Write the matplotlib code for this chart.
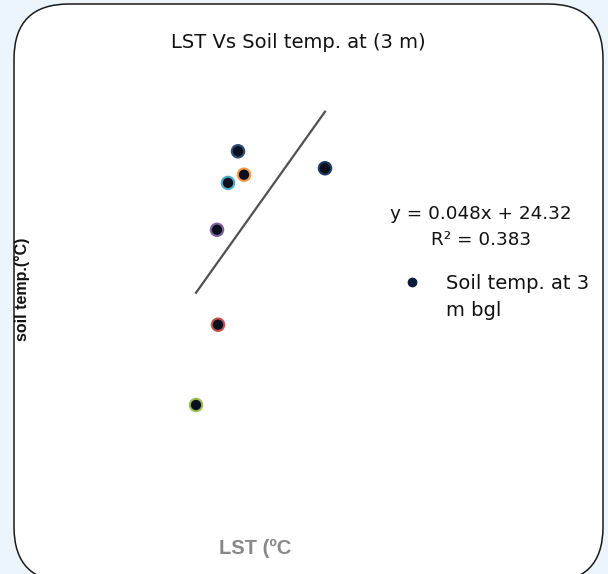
import numpy as np
import matplotlib
matplotlib.use("Agg")
import matplotlib.pyplot as plt
from matplotlib.patches import FancyBboxPatch
from matplotlib.transforms import IdentityTransform

# ---- data ----
lst = [30.10, 30.40, 29.60, 34.45, 29.05, 29.10, 28.00]
soil = [25.911, 25.871, 25.857, 25.882, 25.777, 25.615, 25.478]
edge_colors = ["#2c4d75", "#f79646", "#4bacc6", "#1f3a60", "#8064a2", "#c0504d", "#9bbb59"]
title = "LST Vs Soil temp. at (3 m)"
xlabel = "LST (ºC"
ylabel = "soil temp.(°C)"
equation = "y = 0.048x + 24.32"
r2_text = "R² = 0.383"
legend_label = ["Soil temp. at 3", "m bgl"]

W, H = 608, 574
fig = plt.figure(figsize=(W / 100, H / 100), dpi=100)
fig.patch.set_facecolor("#ecf5fc")

# rounded white panel (pixel coordinates)
panel = FancyBboxPatch((14, -8), 589, 578, boxstyle="round,pad=0,rounding_size=55",
                       transform=IdentityTransform(), facecolor="white",
                       edgecolor="#1a1a1a", linewidth=1.1, zorder=-5)
fig.patches.append(panel)

# axes placed in pixel space: left 50, right 570, top 40, bottom 520
ax = fig.add_axes([50 / W, (H - 520) / H, 520 / W, 480 / H], zorder=2)
ax.set_xlim(20.7, 46.7)
ax.set_ylim(25.2817, 26.1009)
ax.axis("off")
ax.patch.set_alpha(0)

# trend line
coef = np.polyfit(lst, soil, 1)
xs = np.array([min(lst), max(lst)])
ax.plot(xs, np.polyval(coef, xs), color="#555050", linewidth=1.6, zorder=2)

# points
ax.scatter(lst, soil, s=80, c="#0a0f1e", edgecolors=edge_colors, linewidths=1.5, zorder=3)

# texts
fig.text(298 / W, 1 - 42 / H, title, ha="center", va="center", fontsize=14,
         family=["DejaVu Sans"], color="#111111")
fig.text(255 / W, 1 - 548 / H, xlabel, ha="center", va="center", fontsize=14.5,
         fontweight="bold", family=["Liberation Sans", "DejaVu Sans"], color="#888888")
fig.text(22 / W, 1 - 289 / H, ylabel, ha="center", va="center", rotation=90,
         fontsize=11.5, fontweight="bold", family=["Liberation Sans", "DejaVu Sans"],
         color="#111111")
fig.text(481 / W, 1 - 214 / H, equation, ha="center", va="center", fontsize=13.2,
         family=["DejaVu Sans"], color="#111111")
fig.text(481 / W, 1 - 240 / H, r2_text, ha="center", va="center", fontsize=13.2,
         family=["DejaVu Sans"], color="#111111")

# legend marker + text
fig.add_artist(plt.Line2D([412 / W], [1 - 282 / H], marker="o", markersize=6,
                          color="#0a1a3a", transform=fig.transFigure))
fig.text(446 / W, 1 - 283 / H, legend_label[0], ha="left", va="center", fontsize=14,
         family=["DejaVu Sans"], color="#111111")
fig.text(446 / W, 1 - 310 / H, legend_label[1], ha="left", va="center", fontsize=14,
         family=["DejaVu Sans"], color="#111111")

fig.savefig("out.png", dpi=100, facecolor=fig.get_facecolor())
